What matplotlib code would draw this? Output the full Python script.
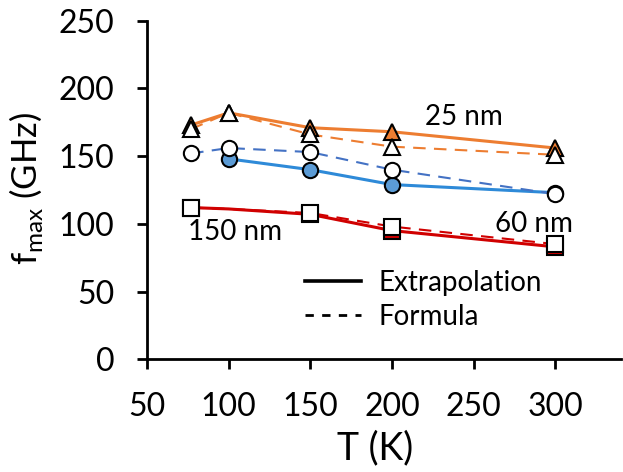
import matplotlib
matplotlib.use("Agg")
import matplotlib.pyplot as plt
from matplotlib.lines import Line2D

plt.rcParams['font.family'] = ['Lato', 'DejaVu Sans']
plt.rcParams['mathtext.fontset'] = 'custom'
plt.rcParams['mathtext.rm'] = 'Lato'

# temperature (K)
T = [77, 100, 150, 200, 300]
T_60 = [100, 150, 200, 300]

# fmax (GHz)
ext_25 = [173, 182, 171, 168, 156]
form_25 = [170, 182, 166, 157, 151]
ext_60 = [148, 140, 129, 123]
form_60 = [152, 156, 153, 140, 122]
ext_150 = [112, 111, 107, 95, 83]
form_150 = [112, 111, 108, 98, 85]
T_150 = [77, 100, 150, 200, 300]
T_150_marks = [77, 150, 200, 300]
ext_150_marks = [112, 107, 95, 83]
form_150_marks = [112, 108, 98, 85]

orange = '#ED7D31'
blue_line = '#2E8AD8'
blue_fill = '#5B9BD5'
blue_dash = '#4472C4'
red = '#D00000'

fig = plt.figure(figsize=(6.23, 4.72), dpi=100)
ax = fig.add_axes([0.236, 0.239, 0.76, 0.717])

# extrapolation (solid, filled markers)
ax.plot(T, ext_25, '-', color=orange, lw=2.2, zorder=2)
ax.plot(T, ext_25, '^', ms=12, mfc=orange, mec='black', mew=1.5, zorder=3)
ax.plot(T_60, ext_60, '-', color=blue_line, lw=2.2, zorder=2)
ax.plot(T_60, ext_60, 'o', ms=11, mfc=blue_fill, mec='black', mew=1.5, zorder=3)
ax.plot(T_150, ext_150, '-', color=red, lw=2.2, zorder=2)
ax.plot(T_150_marks, ext_150_marks, 's', ms=11, mfc=red, mec='black', mew=1.5, zorder=3)

# formula (dashed, open markers)
ax.plot(T, form_25, '--', color=orange, lw=1.5, dashes=(6, 4), zorder=2)
ax.plot(T, form_25, '^', ms=12, mfc='white', mec='black', mew=1.5, zorder=4)
ax.plot(T, form_60, '--', color=blue_dash, lw=1.5, dashes=(6, 4), zorder=2)
ax.plot(T, form_60, 'o', ms=11, mfc='white', mec='black', mew=1.5, zorder=4)
ax.plot(T_150, form_150, '--', color=red, lw=1.5, dashes=(6, 4), zorder=2)
ax.plot(T_150_marks, form_150_marks, 's', ms=11, mfc='white', mec='black', mew=1.5, zorder=4)

ax.text(244, 179, '25 nm', fontsize=20, ha='center', va='center')
ax.text(287, 100, '60 nm', fontsize=20, ha='center', va='center')
ax.text(104, 94, '150 nm', fontsize=20, ha='center', va='center')

handles = [Line2D([], [], color='black', lw=2.6),
           Line2D([], [], color='black', lw=2, ls='--', dashes=(3, 3))]
ax.legend(handles, ['Extrapolation', 'Formula'], loc='upper left',
          bbox_to_anchor=(0.334, 0.265), frameon=False, fontsize=20,
          borderpad=0, borderaxespad=0,
          handlelength=2.0, handletextpad=0.65, labelspacing=0.3)

ax.set_xlim(50, 340)
ax.set_ylim(0, 250)
ax.set_xticks([50, 100, 150, 200, 250, 300])
ax.set_yticks([0, 50, 100, 150, 200, 250])
ax.spines['top'].set_visible(False)
ax.spines['right'].set_visible(False)
ax.spines['left'].set_linewidth(2)
ax.spines['bottom'].set_linewidth(2)
ax.tick_params(direction='out', length=7.5, width=2, labelsize=23)
ax.tick_params(axis='x', pad=16)
ax.tick_params(axis='y', pad=16)
ax.set_xlabel('T (K)', fontsize=27)
ax.set_ylabel(r'f$_{\mathrm{max}}$ (GHz)', fontsize=25)
ax.xaxis.set_label_coords(0.482, -0.21)
ax.yaxis.set_label_coords(-0.256, 0.506)
ax.yaxis.label.set_va('center')

fig.savefig('out.png', dpi=100)
